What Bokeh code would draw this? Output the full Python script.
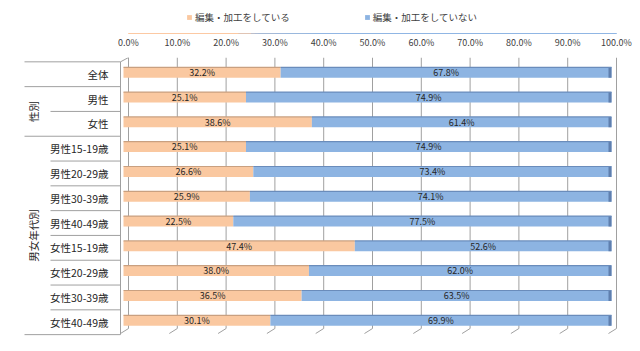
import math
from bokeh.plotting import figure
from bokeh.layouts import column
from bokeh.models import Range1d, ColumnDataSource, FixedTicker, LinearAxis, Legend, LegendItem
from bokeh.embed import file_html
from bokeh.resources import INLINE
from bokeh.core.properties import value

# ---------------- data ----------------
categories = ["全体", "男性", "女性",
              "男性15-19歳", "男性20-29歳", "男性30-39歳", "男性40-49歳",
              "女性15-19歳", "女性20-29歳", "女性30-39歳", "女性40-49歳"]
groups = ["", "性別", "性別",
          "男女年代別", "男女年代別", "男女年代別", "男女年代別",
          "男女年代別", "男女年代別", "男女年代別", "男女年代別"]
edited = [32.2, 25.1, 38.6, 25.1, 26.6, 25.9, 22.5, 47.4, 38.0, 36.5, 30.1]
not_edited = [67.8, 74.9, 61.4, 74.9, 73.4, 74.1, 77.5, 52.6, 62.0, 63.5, 69.9]
series_names = ["編集・加工をしている", "編集・加工をしていない"]
tick_values = [0, 10, 20, 30, 40, 50, 60, 70, 80, 90, 100]
tick_labels = ["0.0%", "10.0%", "20.0%", "30.0%", "40.0%", "50.0%",
               "60.0%", "70.0%", "80.0%", "90.0%", "100.0%"]

# ---------------- layout (pixels) ----------------
W, H = 640, 351
TOP_H = 57                      # header (legend + axis labels)
FL, FR, FT, FB = 20, 640, 57, 340
X0_PX, X100_PX = 123, 611
ROW0_PX, ROW_PITCH = 72, 24.8
SX = (X100_PX - X0_PX) / 100.0


def px2x(px):
    return (px - X0_PX) / SX


def py2y(py):
    return (py - ROW0_PX) / ROW_PITCH


FONT = "Noto Sans CJK JP"
ORANGE = "#FAC8A0"
ORANGE_EDGE = "#C9A080"
BLUE = "#8DB4E2"
BLUE_EDGE = "#6A8CBB"
BLUE_CAP = "#5F7FAE"
GRID = "#A0A0A0"
TEXT = "#262626"

BACK_DX = 5 / SX
FRONT_DX = -3 / SX
TOP_Y = py2y(FT)
BACK_FLOOR_Y = py2y(328)
FRONT_FLOOR_Y = py2y(333)
FRONT_DY = 0.07
BAR_H = 0.42

rows = list(range(len(categories)))
totals = [a + b for a, b in zip(edited, not_edited)]
src = ColumnDataSource(dict(y=rows, e=edited, n=not_edited, t=totals,
                            top=[r - BAR_H / 2 for r in rows],
                            cap=[t - 3 / SX for t in totals],
                            zero=[0] * len(rows)))

x_main = Range1d(px2x(FL), px2x(FR))
x_wall = Range1d(px2x(FL) - BACK_DX, px2x(FR) - BACK_DX)   # back wall plane (3D depth)

# ---------------- header figure: legend + percentage axis ----------------
HEAD_FRAME_H = 33
head = figure(width=W, height=TOP_H, output_backend="svg", toolbar_location=None,
              x_range=x_wall, y_range=Range1d(100, 101),
              x_axis_location=None, y_axis_location=None,
              min_border_left=FL, min_border_right=W - FR,
              min_border_top=0, min_border_bottom=TOP_H - HEAD_FRAME_H)
head.outline_line_color = None
head.grid.visible = False
head.border_fill_color = "white"
ax = LinearAxis(ticker=FixedTicker(ticks=tick_values),
                major_label_overrides={float(t): l for t, l in zip(tick_values, tick_labels)},
                axis_line_color=None, major_tick_line_color=None, minor_tick_line_color=None,
                major_tick_out=0, major_tick_in=0, major_label_standoff=2,
                major_label_text_font=FONT, major_label_text_font_size="9px",
                major_label_text_color="#404040")
head.add_layout(ax, "below")
# series glyphs (outside the header's visible y-range) that feed the legend
h1 = head.hbar(y="y", left="zero", right="e", height=BAR_H, source=src,
               fill_color=ORANGE, line_color=None)
h2 = head.hbar(y="y", left="e", right="t", height=BAR_H, source=src,
               fill_color=BLUE, line_color=None)
legend = Legend(items=[LegendItem(label=series_names[0], renderers=[h1]),
                       LegendItem(label=series_names[1], renderers=[h2])],
                orientation="horizontal", location=(186 - FL, HEAD_FRAME_H - 24),
                padding=0, margin=0, spacing=74,
                glyph_width=6, glyph_height=6, label_standoff=3, label_height=12,
                label_text_font=FONT, label_text_font_size="9.5px", label_text_color="#404040",
                border_line_alpha=0, background_fill_alpha=0)
head.add_layout(legend)

# ---------------- main figure ----------------
p = figure(width=W, height=H - TOP_H, output_backend="svg", toolbar_location=None,
           x_range=x_main, y_range=Range1d(py2y(FB), py2y(FT)),
           x_axis_location=None, y_axis_location=None,
           min_border_left=FL, min_border_right=W - FR,
           min_border_top=0, min_border_bottom=H - FB)
p.outline_line_color = None
p.grid.visible = False
p.background_fill_color = "white"
p.border_fill_color = "white"

# grid lines on back wall + floor diagonals
gx = [t + BACK_DX for t in tick_values]
p.segment(x0=gx, y0=[TOP_Y] * len(gx), x1=gx, y1=[BACK_FLOOR_Y] * len(gx),
          line_color=GRID, line_width=1)
p.segment(x0=gx, y0=[BACK_FLOOR_Y] * len(gx),
          x1=[t + FRONT_DX for t in tick_values], y1=[FRONT_FLOOR_Y] * len(gx),
          line_color=GRID, line_width=1)

# left wall / table edge
table_top = rows[0] - 0.5 + FRONT_DY
table_bottom = rows[-1] + 0.5 + FRONT_DY
p.segment(x0=[FRONT_DX], y0=[table_top], x1=[FRONT_DX], y1=[table_bottom],
          line_color=GRID, line_width=1)
p.segment(x0=[FRONT_DX], y0=[table_top], x1=[BACK_DX], y1=[TOP_Y],
          line_color=GRID, line_width=1)

# table separators
x_full = px2x(24)
x_inner = px2x(50)
sep_x0, sep_y = [x_full], [table_top]
for i in range(len(categories) - 1):
    sep_x0.append(x_full if groups[i] != groups[i + 1] else x_inner)
    sep_y.append(i + 0.5 + FRONT_DY)
sep_x0.append(x_full)
sep_y.append(table_bottom)
p.segment(x0=sep_x0, y0=sep_y, x1=[FRONT_DX] * len(sep_y), y1=sep_y,
          line_color=GRID, line_width=1)

# bars
p.hbar(y="y", left="zero", right="e", height=BAR_H, source=src,
       fill_color=ORANGE, line_color=None)
p.hbar(y="y", left="e", right="t", height=BAR_H, source=src,
       fill_color=BLUE, line_color=None)
p.hbar(y="y", left="cap", right="t", height=BAR_H, source=src,
       fill_color=BLUE_CAP, line_color=None)
p.segment(x0="zero", y0="top", x1="e", y1="top", source=src,
          line_color=ORANGE_EDGE, line_width=1.2)
p.segment(x0="e", y0="top", x1="t", y1="top", source=src,
          line_color=BLUE_EDGE, line_width=1.2)

# value labels
lab = ColumnDataSource(dict(
    x=[e / 2 for e in edited] + [e + n / 2 for e, n in zip(edited, not_edited)],
    y=rows + rows,
    t=[f"{v:.1f}%" for v in edited] + [f"{v:.1f}%" for v in not_edited]))
p.text(x="x", y="y", text="t", source=lab, text_align="center", text_baseline="middle",
       text_font=value(FONT), text_font_size="9px", text_color=TEXT)

# category labels
cat = ColumnDataSource(dict(x=[px2x(108)] * len(rows), y=[r + FRONT_DY for r in rows], t=categories))
p.text(x="x", y="y", text="t", source=cat, text_align="right", text_baseline="middle",
       text_font=value(FONT), text_font_size="10.5px", text_color=TEXT)

# group labels (vertical)
gnames, gy = [], []
for g in dict.fromkeys(groups):
    if not g:
        continue
    idx = [i for i, gg in enumerate(groups) if gg == g]
    gnames.append(g)
    gy.append((idx[0] + idx[-1]) / 2 + FRONT_DY)
gsrc = ColumnDataSource(dict(x=[px2x(33)] * len(gnames), y=gy, t=gnames))
p.text(x="x", y="y", text="t", source=gsrc, angle=math.pi / 2,
       text_align="center", text_baseline="middle",
       text_font=value(FONT), text_font_size="10.5px", text_color=TEXT)

layout = column(head, p, spacing=0)
open("out.html", "w").write(file_html(layout, INLINE))
